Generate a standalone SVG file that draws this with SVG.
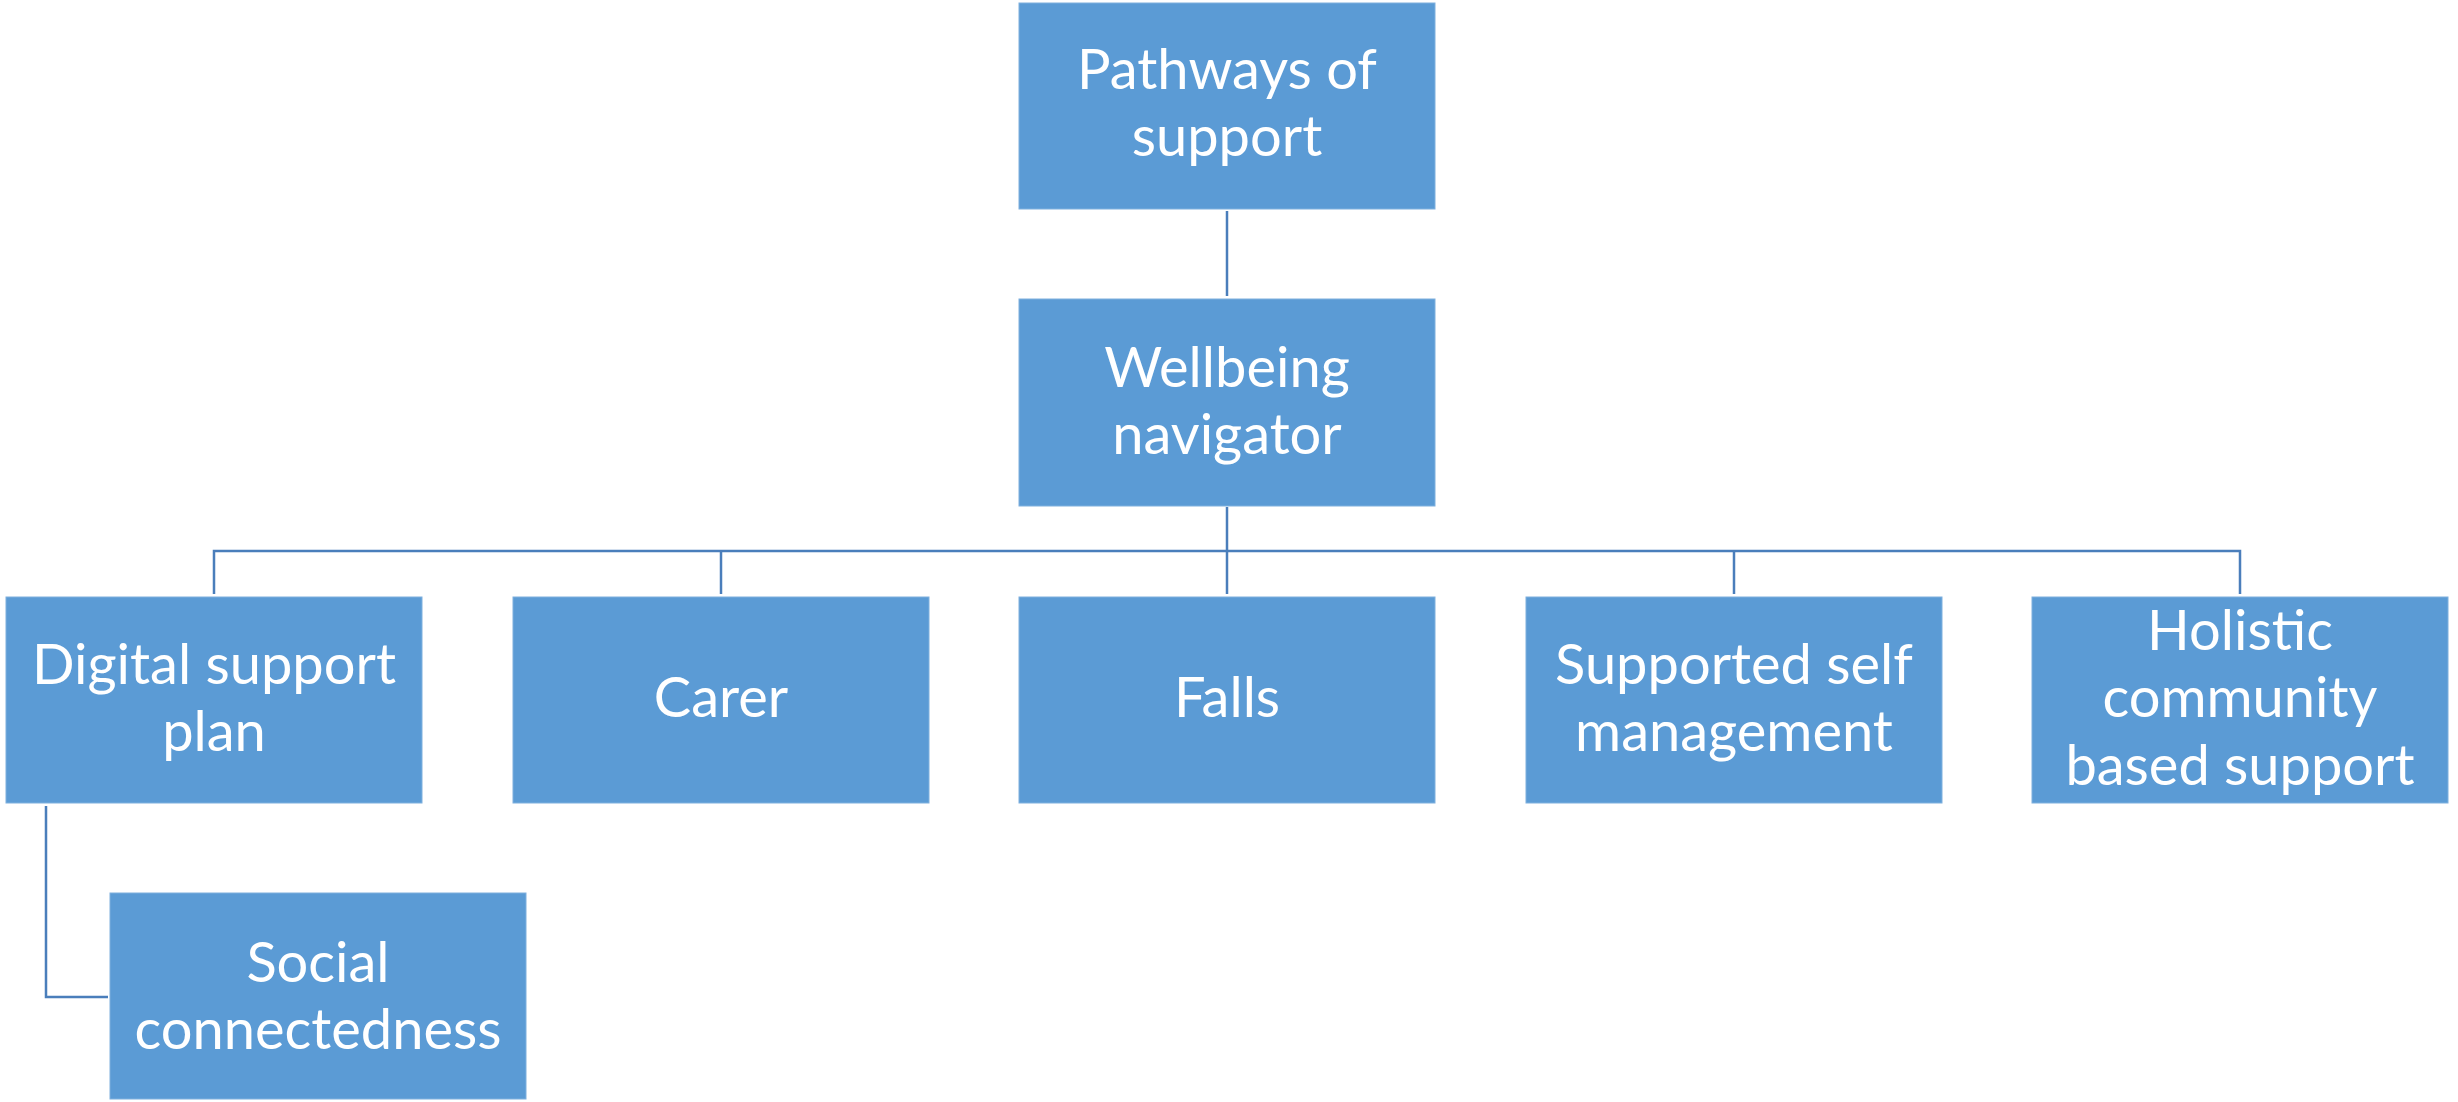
<svg xmlns="http://www.w3.org/2000/svg" width="2458" height="1102" viewBox="0 0 2458 1102">
<style>
.box{fill:#5B9BD5;stroke:#7FB0DE;stroke-width:1}
.lbl{fill:#FFFFFF;font-family:Lato,"Liberation Sans",sans-serif;font-size:56px;text-anchor:middle}
.conn{fill:none;stroke:#4A7EBB;stroke-width:2.5}
</style>
<rect width="2458" height="1102" fill="#FFFFFF"/>
<g id="connectors">
<path class="conn" d="M1227 211V296"/>
<path class="conn" d="M1227 507V551"/>
<path class="conn" d="M214 594V551H2240V594"/>
<path class="conn" d="M721 551V594"/>
<path class="conn" d="M1227 551V594"/>
<path class="conn" d="M1734 551V594"/>
<path class="conn" d="M46 806V997H108"/>
</g>
<g id="n-pathways"><rect class="box" x="1019" y="3" width="416" height="206"/><text class="lbl" x="1227" y="89">Pathways of</text><text class="lbl" x="1227" y="156">support</text></g>
<g id="n-wellbeing"><rect class="box" x="1019" y="299" width="416" height="207"/><text class="lbl" x="1227" y="387">Wellbeing</text><text class="lbl" x="1227" y="454">navigator</text></g>
<g id="n-digital"><rect class="box" x="6" y="597" width="416" height="206"/><text class="lbl" x="214" y="684">Digital support</text><text class="lbl" x="214" y="751">plan</text></g>
<g id="n-carer"><rect class="box" x="513" y="597" width="416" height="206"/><text class="lbl" x="721" y="717">Carer</text></g>
<g id="n-falls"><rect class="box" x="1019" y="597" width="416" height="206"/><text class="lbl" x="1227" y="717">Falls</text></g>
<g id="n-selfmgmt"><rect class="box" x="1526" y="597" width="416" height="206"/><text class="lbl" x="1734" y="684">Supported self</text><text class="lbl" x="1734" y="751">management</text></g>
<g id="n-holistic"><rect class="box" x="2032" y="597" width="416" height="206"/><text class="lbl" x="2240" y="650">Holistic</text><text class="lbl" x="2240" y="717">community</text><text class="lbl" x="2240" y="785">based support</text></g>
<g id="n-social"><rect class="box" x="110" y="893" width="416" height="206"/><text class="lbl" x="318" y="982">Social</text><text class="lbl" x="318" y="1049">connectedness</text></g>
</svg>
